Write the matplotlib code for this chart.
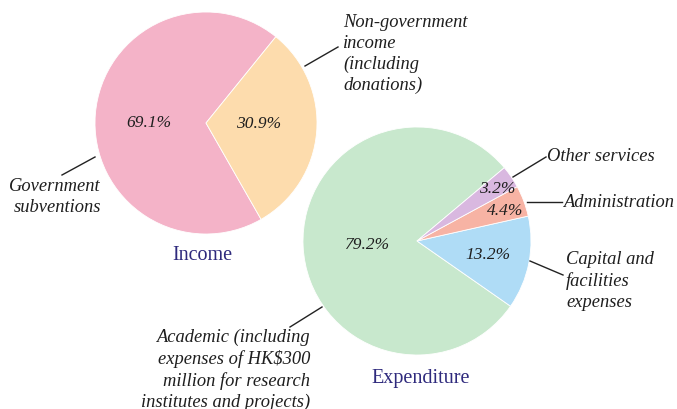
import matplotlib
matplotlib.use("Agg")
import matplotlib.pyplot as plt

W, H = 677, 410

income_labels = ["Government\nsubventions", "Non-government\nincome\n(including\ndonations)"]
income_values = [69.1, 30.9]
income_colors = ["#F4B3C8", "#FDDCAD"]

exp_labels = ["Academic (including\nexpenses of HK$300\nmillion for research\ninstitutes and projects)",
              "Capital and\nfacilities\nexpenses", "Administration", "Other services"]
exp_values = [79.2, 13.2, 4.4, 3.2]
exp_colors = ["#C8E8CD", "#AFDCF6", "#F7B3A4", "#D9B8E0"]

fig = plt.figure(figsize=(W / 100, H / 100), dpi=100)
ax = fig.add_axes([0, 0, 1, 1])

def Y(y):
    return H - y

serif = ["Liberation Serif", "DejaVu Serif"]
txt = "#1e1e1e"
navy = "#2F2A7D"

pct = dict(family=serif, style="italic", fontsize=12.5, color=txt)

ax.pie(income_values, colors=income_colors, startangle=51, counterclock=True,
       center=(206, Y(124)), radius=111,
       wedgeprops=dict(edgecolor="white", linewidth=0.6),
       autopct="%.1f%%", pctdistance=0.58, textprops=pct)

ax.pie(exp_values, colors=exp_colors, startangle=40, counterclock=True,
       center=(417, Y(242)), radius=114,
       wedgeprops=dict(edgecolor="white", linewidth=0.6),
       autopct="%.1f%%", pctdistance=0.6, textprops=pct)

ax.set_xlim(0, W)
ax.set_ylim(0, H)
ax.set_aspect("equal")
ax.axis("off")

pos = {"69.1%": (149, 123), "30.9%": (259, 124), "79.2%": (368, 245),
       "13.2%": (488, 255), "4.4%": (505, 211), "3.2%": (497, 189)}
for t in ax.texts:
    s = t.get_text()
    if s in pos:
        x, y = pos[s]
        t.set_position((x, Y(y)))
        t.set_ha("center")
        t.set_va("center")

lab = dict(family=serif, style="italic", fontsize=13.3, color=txt, linespacing=1.3)

ax.text(101, Y(197), income_labels[0], ha="right", va="center", **lab)
ax.plot([62, 95], [Y(176), Y(158)], color="#222", lw=1)
ax.text(343, Y(54), income_labels[1], ha="left", va="center", **lab)
ax.plot([305, 338], [Y(67), Y(48)], color="#222", lw=1)

ax.text(310, Y(370), exp_labels[0], ha="right", va="center", multialignment="right", **lab)
ax.plot([290, 322], [Y(328), Y(308)], color="#222", lw=1)
ax.text(566, Y(281), exp_labels[1], ha="left", va="center", **lab)
ax.plot([530, 563], [Y(262), Y(276)], color="#222", lw=1)
ax.text(563, Y(203), exp_labels[2], ha="left", va="center", **lab)
ax.plot([527, 562], [Y(203), Y(203)], color="#222", lw=1)
ax.text(547, Y(157), exp_labels[3], ha="left", va="center", **lab)
ax.plot([513, 546], [Y(178), Y(158)], color="#222", lw=1)

ax.text(202, Y(256), "Income", ha="center", va="center", family=serif,
        fontsize=14.5, color=navy)
ax.text(421, Y(379), "Expenditure", ha="center", va="center", family=serif,
        fontsize=14.5, color=navy)

fig.savefig("out.png", dpi=100)
